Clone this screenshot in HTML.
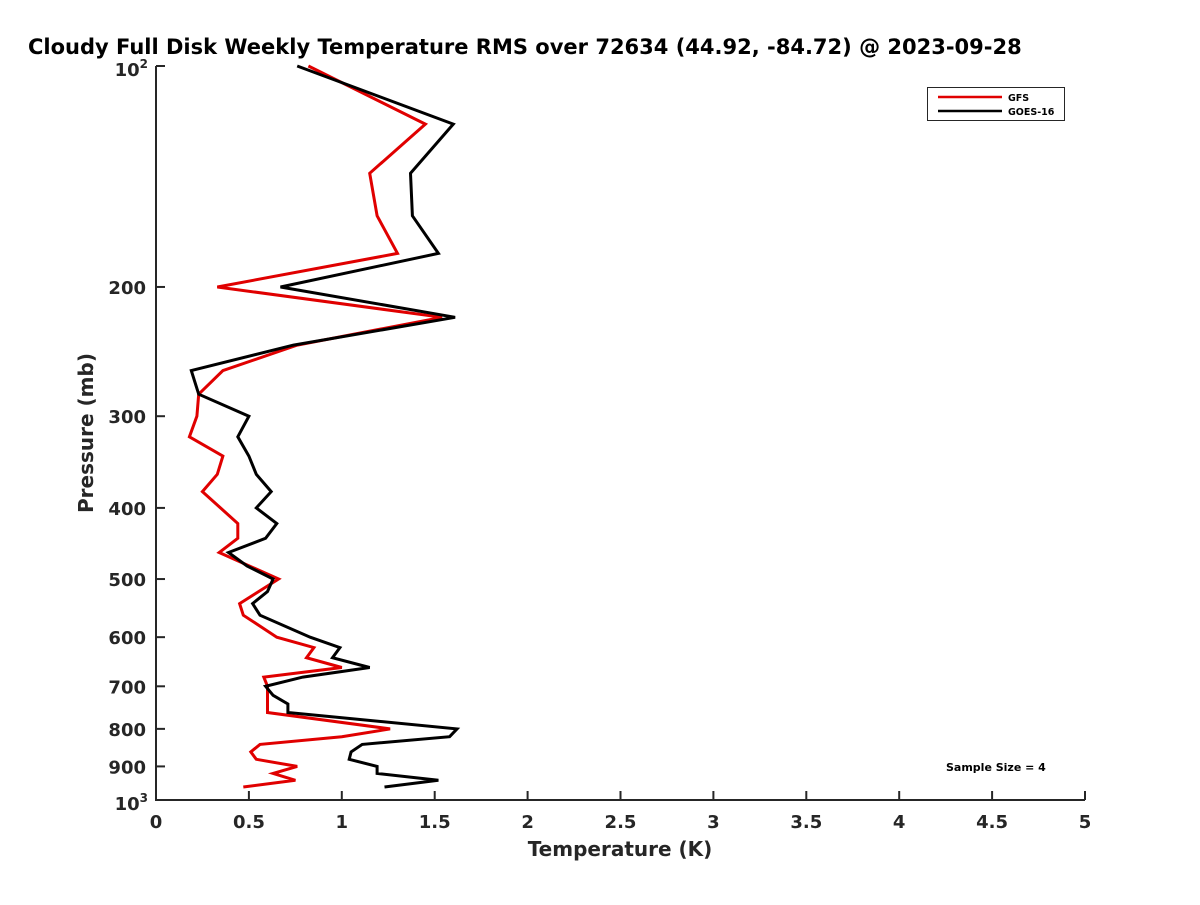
<!DOCTYPE html>
<html><head><meta charset="utf-8"><style>
body{margin:0;background:#fff;width:1200px;height:900px;overflow:hidden}
svg text{font-family:"DejaVu Sans","Liberation Sans",sans-serif;font-weight:bold}
</style></head><body>
<svg id="chart" width="1200" height="900" viewBox="0 0 1200 900" xmlns="http://www.w3.org/2000/svg">
<text x="28" y="54" font-size="21" fill="#000">Cloudy Full Disk Weekly Temperature RMS over 72634 (44.92, -84.72) @ 2023-09-28</text>
<g id="axes"></g>
<g id="series"></g>
<text x="620" y="856" font-size="20" fill="#262626" text-anchor="middle">Temperature (K)</text>
<text transform="translate(93,433) rotate(-90)" font-size="20" fill="#262626" text-anchor="middle">Pressure (mb)</text>
<g>
<rect x="927.5" y="87.5" width="137" height="33" fill="#fff" stroke="#262626" stroke-width="1"/>
<line x1="938" y1="97" x2="1002" y2="97" stroke="#e00000" stroke-width="2.5"/>
<text x="1008" y="101" font-size="9.5" fill="#000">GFS</text>
<line x1="938" y1="111" x2="1002" y2="111" stroke="#000" stroke-width="2.5"/>
<text x="1008" y="115" font-size="9.5" fill="#000">GOES-16</text>
</g>
<text x="946" y="771" font-size="11" fill="#000">Sample Size = 4</text>
</svg>
<script>
const pressures = [100,120,140,160,180,200,220,240,260,280,300,320,340,360,380,400,420,440,460,480,500,520,540,560,600,620,640,660,680,700,720,740,760,800,820,840,860,880,900,920,940,960];
const goesRms = [0.76,1.60,1.37,1.38,1.52,0.67,1.61,0.74,0.19,0.23,0.50,0.44,0.50,0.54,0.62,0.54,0.65,0.59,0.39,0.49,0.63,0.60,0.52,0.56,0.83,0.99,0.95,1.15,0.79,0.59,0.63,0.71,0.71,1.62,1.58,1.11,1.05,1.04,1.19,1.19,1.52,1.23];
const gfsPressures = [100,120,140,160,180,200,220,240,260,280,300,320,340,360,380,420,440,460,500,540,560,600,620,640,660,680,700,760,800,820,840,860,880,900,920,940,960];
const gfsRms = [0.82,1.45,1.15,1.19,1.30,0.33,1.54,0.76,0.36,0.23,0.22,0.18,0.36,0.33,0.25,0.44,0.44,0.34,0.66,0.45,0.47,0.65,0.85,0.81,1.00,0.58,0.60,0.60,1.26,1.00,0.56,0.51,0.54,0.76,0.63,0.75,0.47];
const xTicks = [0,0.5,1,1.5,2,2.5,3,3.5,4,4.5,5];
const xTickLabels = ["0","0.5","1","1.5","2","2.5","3","3.5","4","4.5","5"];
const yTicks = [200,300,400,500,600,700,800,900];

const X0=156,X1=1085,Y0=66,Y1=800;
const xs=v=>X0+(v-0)/(5-0)*(X1-X0);
const ys=p=>Y0+(Math.log10(p)-2)/(3-2)*(Y1-Y0);
const NS="http://www.w3.org/2000/svg";
const axes=document.getElementById('axes'), series=document.getElementById('series');
function mk(tag,attrs,parent){const e=document.createElementNS(NS,tag);for(const k in attrs)e.setAttribute(k,attrs[k]);parent.appendChild(e);return e;}
const ax=mk('path',{d:`M${X0},${Y0} V${Y1} H${X1}`,fill:'none',stroke:'#262626','stroke-width':2},axes);


xTicks.forEach((v,i)=>{
  const x=xs(v);
  const t=mk('line',{x1:x,y1:Y1,x2:x,y2:Y1-9,stroke:'#262626','stroke-width':2},axes);
  
  
  const l=mk('text',{x:x,y:Y1+28,'font-size':18,fill:'#262626','text-anchor':'middle'},axes);
  l.textContent=xTickLabels[i];
  
  
});
[100,1000].forEach(p=>{
  const y=ys(p);
  mk('line',{x1:X0,y1:y,x2:X0+9,y2:y,stroke:'#262626','stroke-width':2},axes);
  const l=mk('text',{x:X0-8,y:y+(p===100?10:10),'font-size':18,fill:'#262626','text-anchor':'end'},axes);
  
  
  l.textContent='10';
  const s=mk('tspan',{dy:-8,'font-size':12},l);
  s.textContent=p===100?'2':'3';
});
yTicks.forEach(p=>{
  const y=ys(p);
  const t=mk('line',{x1:X0,y1:y,x2:X0+9,y2:y,stroke:'#262626','stroke-width':2},axes);
  
  
  const l=mk('text',{x:X0-10,y:y+7,'font-size':18,fill:'#262626','text-anchor':'end'},axes);
  l.textContent=String(p);
  
  
});
function line(vals,ps,color,name){
  const d=vals.map((v,i)=>(i?'L':'M')+xs(v).toFixed(1)+','+ys(ps[i]).toFixed(1)).join(' ');
  const p=mk('path',{d:d,fill:'none',stroke:color,'stroke-width':3,'stroke-linejoin':'miter'},series);
  
  
}
line(gfsRms,gfsPressures,'#e00000','gfs-line');
line(goesRms,pressures,'#000000','goes16-line');
</script>
</body></html>
